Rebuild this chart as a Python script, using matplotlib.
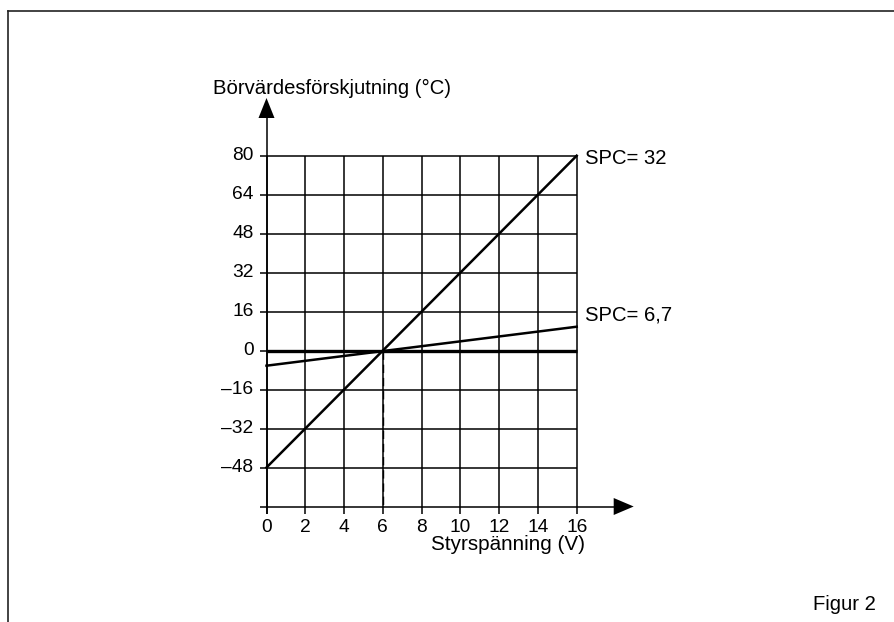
import matplotlib
matplotlib.use("Agg")
import matplotlib.pyplot as plt
from matplotlib.lines import Line2D

plt.rcParams['font.family'] = ['Liberation Sans', 'DejaVu Sans']

# Data
x_ticks = [0, 2, 4, 6, 8, 10, 12, 14, 16]
y_ticks = [-48, -32, -16, 0, 16, 32, 48, 64, 80]
y_tick_labels = ['–48', '–32', '–16', '0', '16', '32', '48', '64', '80']
spc32_x = [0, 16]
spc32_y = [-48, 80]
spc67_x = [0, 16]
spc67_y = [-6.2, 9.8]
zero_x = [0, 16]
zero_y = [0, 0]
intersect_x = 6

W, H = 894, 622
fig = plt.figure(figsize=(W / 100, H / 100), dpi=100)

# frame lines (figure pixels)
fig.add_artist(Line2D([8 / W, 1.0], [1 - 11 / H, 1 - 11 / H], transform=fig.transFigure,
                      color='#222222', lw=1.2))
fig.add_artist(Line2D([8 / W, 8 / W], [1 - 11 / H, 0], transform=fig.transFigure,
                      color='#222222', lw=1.2))

left = 266.5 / W
right = 576.7 / W
top = 1 - 155.7 / H
bottom = 1 - 506.5 / H
ax = fig.add_axes([left, bottom, right - left, top - bottom])
ax.set_xlim(0, 16)
ax.set_ylim(-64, 80)
for s in ax.spines.values():
    s.set_visible(False)
ax.set_xticks([])
ax.set_yticks([])
ax.patch.set_alpha(0)

pxx = 16 / (576.7 - 266.5)   # data units per pixel, x
pxy = 144 / (506.5 - 155.7)  # data units per pixel, y

glw = 1.1
# grid: vertical lines (extend slightly below x axis as tick)
for xv in x_ticks:
    ax.plot([xv, xv], [-64 - 7 * pxy, 80], color='black', lw=glw, clip_on=False, solid_capstyle='butt')
# horizontal lines (extend slightly left of y axis as tick)
for yv in y_ticks:
    ax.plot([-7 * pxx, 16], [yv, yv], color='black', lw=glw, clip_on=False, solid_capstyle='butt')

# x axis with arrow
x_tip = 16 + 57 * pxx
ax.plot([-7 * pxx, x_tip - 18 * pxx], [-64, -64], color='black', lw=glw, clip_on=False,
        solid_capstyle='butt')
ax.fill([x_tip, x_tip - 20 * pxx, x_tip - 20 * pxx], [-64, -64 + 8.5 * pxy, -64 - 8.5 * pxy],
        color='black', clip_on=False, lw=0)
# y axis with arrow
y_tip = 80 + 57.7 * pxy
ax.plot([0, 0], [-64 - 7 * pxy, y_tip - 18 * pxy], color='black', lw=glw, clip_on=False,
        solid_capstyle='butt')
ax.fill([0, -8 * pxx, 8 * pxx], [y_tip, y_tip - 20 * pxy, y_tip - 20 * pxy],
        color='black', clip_on=False, lw=0)

# data lines
ax.plot(zero_x, zero_y, color='black', lw=2.4, solid_capstyle='butt', clip_on=False)
ax.plot(spc32_x, spc32_y, color='black', lw=1.8, clip_on=False)
ax.plot(spc67_x, spc67_y, color='black', lw=1.8, clip_on=False)
ax.plot([intersect_x, intersect_x], [0, -64], color='black', lw=1.0, ls=(0, (6, 3.5)))

fs = 13.8
fs2 = 14.6
for xv in x_ticks:
    ax.text(xv, -64 - 20.5 * pxy, str(xv), ha='center', va='center', fontsize=fs)
for yv, lab in zip(y_ticks, y_tick_labels):
    ax.text(-13 * pxx, yv, lab, ha='right', va='center', fontsize=fs)

ax.text(16 + 8.5 * pxx, 80 - 2.5 * pxy, 'SPC= 32', ha='left', va='center', fontsize=fs2,
        clip_on=False)
ax.text(16 + 8.5 * pxx, 14.5, 'SPC= 6,7', ha='left', va='center', fontsize=fs2, clip_on=False)

fig.text(213 / W, 1 - 88 / H, 'Börvärdesförskjutning (°C)', ha='left', va='center', fontsize=fs2)
fig.text(585 / W, 1 - 544 / H, 'Styrspänning (V)', ha='right', va='center', fontsize=14.9)
fig.text(876 / W, 1 - 604 / H, 'Figur 2', ha='right', va='center', fontsize=fs2)

fig.savefig('out.png', dpi=100)
